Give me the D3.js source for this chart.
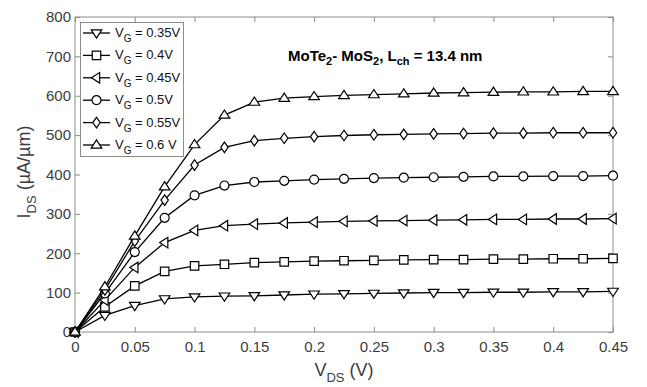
<!DOCTYPE html>
<html>
<head>
<meta charset="utf-8">
<script src="https://cdn.jsdelivr.net/npm/d3@7"></script>
<style>
  body { margin: 0; background: #fff; }
  svg { display: block; font-family: "Liberation Sans", Arial, Helvetica, sans-serif; }
</style>
</head>
<body>
<svg id="chart" width="647" height="387"></svg>
<script>
// Drain voltage sweep (V)
const vds = [0, 0.025, 0.05, 0.075, 0.1, 0.125, 0.15, 0.175, 0.2, 0.225, 0.25, 0.275, 0.3, 0.325, 0.35, 0.375, 0.4, 0.425, 0.45];

// Drain current (µA/µm) for each gate voltage
const id035 = [0, 42, 67, 84, 89, 91, 92, 94, 96, 97, 98, 99, 100, 100, 101, 101, 102, 102, 103];
const id040 = [0, 64, 117, 154, 168, 172, 176, 178, 180, 181, 182, 183, 184, 184, 185, 185, 186, 186, 187];
const id045 = [0, 81, 164, 227, 258, 270, 274, 277, 279, 281, 282, 283, 284, 285, 286, 286, 287, 287, 288];
const id050 = [0, 98, 203, 290, 347, 372, 381, 384, 387, 389, 391, 392, 393, 394, 395, 395, 396, 396, 397];
const id055 = [0, 107, 231, 335, 424, 469, 486, 492, 496, 499, 501, 502, 503, 504, 505, 505, 506, 506, 506];
const id060 = [0, 115, 244, 369, 476, 551, 584, 594, 598, 601, 603, 605, 607, 608, 609, 610, 610, 611, 611];

const gateLabels = ["0.35V", "0.4V", "0.45V", "0.5V", "0.55V", "0.6 V"];
const markerKinds = ["triDown", "square", "triLeft", "circle", "diamond", "triUp"];
const seriesValues = [id035, id040, id045, id050, id055, id060];

const xTicks = [0, 0.05, 0.1, 0.15, 0.2, 0.25, 0.3, 0.35, 0.4, 0.45];
const yTicks = [0, 100, 200, 300, 400, 500, 600, 700, 800];

const svg = d3.select("#chart");
const m = { left: 75, right: 613, top: 17, bottom: 332 };
const x = d3.scaleLinear().domain([0, 0.45]).range([m.left, m.right]);
const y = d3.scaleLinear().domain([0, 800]).range([m.bottom, m.top]);

const axisColor = "#8c8c8c";
const textColor = "#3c3c3c";

// Frame
svg.append("rect")
  .attr("x", m.left).attr("y", m.top)
  .attr("width", m.right - m.left).attr("height", m.bottom - m.top)
  .attr("fill", "none").attr("stroke", axisColor).attr("stroke-width", 1);

// Axes with inward ticks on all four sides
const tickLen = 5;
const fmtX = d => d === 0 ? "0" : d3.format("~g")(d);
const bottomAxis = d3.axisBottom(x).tickValues(xTicks).tickSize(-tickLen).tickPadding(9).tickFormat(fmtX);
const topAxis = d3.axisTop(x).tickValues(xTicks).tickSize(-tickLen).tickFormat("");
const leftAxis = d3.axisLeft(y).tickValues(yTicks).tickSize(-tickLen).tickPadding(4);
const rightAxis = d3.axisRight(y).tickValues(yTicks).tickSize(-tickLen).tickFormat("");

function styleAxis(g) {
  g.select(".domain").remove();
  g.selectAll(".tick line").attr("stroke", axisColor);
  g.selectAll(".tick text").attr("fill", textColor).style("font-size", "15px")
    .style("font-family", "'Liberation Sans', Arial, sans-serif");
}
svg.append("g").attr("transform", `translate(0,${m.bottom})`).call(bottomAxis).call(styleAxis);
svg.append("g").attr("transform", `translate(0,${m.top})`).call(topAxis).call(styleAxis);
svg.append("g").attr("transform", `translate(${m.left},0)`).call(leftAxis).call(styleAxis);
svg.append("g").attr("transform", `translate(${m.right},0)`).call(rightAxis).call(styleAxis);

// Marker shapes
function markerPath(kind, r) {
  switch (kind) {
    case "triDown": return `M${-r},${-r * 0.6}L${r},${-r * 0.6}L0,${r * 0.95}Z`;
    case "triUp": return `M${-r},${r * 0.6}L${r},${r * 0.6}L0,${-r * 0.95}Z`;
    case "triLeft": return `M${r * 0.6},${-r}L${r * 0.6},${r}L${-r * 0.95},0Z`;
    case "square": return `M${-r * 0.8},${-r * 0.8}H${r * 0.8}V${r * 0.8}H${-r * 0.8}Z`;
    case "diamond": return `M0,${-r}L${r * 0.7},0L0,${r}L${-r * 0.7},0Z`;
    case "circle": return d3.arc()({ innerRadius: 0, outerRadius: r * 0.85, startAngle: 0, endAngle: 2 * Math.PI });
  }
}

const line = d3.line().x(d => x(d[0])).y(d => y(d[1]));
const markerR = 5.3;

seriesValues.forEach((vals, i) => {
  const pts = vds.map((v, k) => [v, vals[k]]);
  const g = svg.append("g");
  g.append("path").datum(pts).attr("d", line)
    .attr("fill", "none").attr("stroke", "#000").attr("stroke-width", 1.3);
  g.selectAll("path.mk").data(pts).enter().append("path")
    .attr("class", "mk")
    .attr("transform", d => `translate(${x(d[0])},${y(d[1])})`)
    .attr("d", markerPath(markerKinds[i], markerR))
    .attr("fill", "#fff").attr("stroke", "#000").attr("stroke-width", 1.2);
});

// Legend
const leg = svg.append("g");
leg.append("rect").attr("x", 80.5).attr("y", 22.5).attr("width", 103).attr("height", 134)
  .attr("fill", "#fff").attr("stroke", axisColor).attr("stroke-width", 1);
gateLabels.forEach((lab, i) => {
  const cy = 33 + i * 22.4;
  leg.append("line").attr("x1", 83).attr("x2", 110).attr("y1", cy).attr("y2", cy)
    .attr("stroke", "#000").attr("stroke-width", 1.3);
  leg.append("path").attr("transform", `translate(96.5,${cy})`)
    .attr("d", markerPath(markerKinds[i], markerR))
    .attr("fill", "#fff").attr("stroke", "#000").attr("stroke-width", 1.2);
  const t = leg.append("text").attr("x", 115).attr("y", cy + 4)
    .attr("fill", "#111").style("font-size", "13px");
  t.append("tspan").text("V");
  t.append("tspan").attr("dy", 5).style("font-size", "10px").text("G");
  t.append("tspan").attr("dy", -5).text(" = " + lab);
});

// Device annotation
const ann = svg.append("text").attr("x", 288).attr("y", 61)
  .attr("fill", "#000").style("font-size", "15px").style("font-weight", "bold");
ann.append("tspan").text("MoTe");
ann.append("tspan").attr("dy", 4).style("font-size", "11px").text("2");
ann.append("tspan").attr("dy", -4).text("- MoS");
ann.append("tspan").attr("dy", 4).style("font-size", "11px").text("2");
ann.append("tspan").attr("dy", -4).text(", L");
ann.append("tspan").attr("dy", 4).style("font-size", "11px").text("ch");
ann.append("tspan").attr("dy", -4).text(" = 13.4 nm");

// Axis titles
const xt = svg.append("text").attr("x", 344).attr("y", 376).attr("text-anchor", "middle")
  .attr("fill", textColor).style("font-size", "18px");
xt.append("tspan").text("V");
xt.append("tspan").attr("dy", 6).style("font-size", "13px").text("DS");
xt.append("tspan").attr("dy", -6).text(" (V)");

const yt = svg.append("text").attr("transform", "translate(30,172) rotate(-90)")
  .attr("text-anchor", "middle").attr("fill", textColor).style("font-size", "18px");
yt.append("tspan").text("I");
yt.append("tspan").attr("dy", 6).style("font-size", "13px").text("DS");
yt.append("tspan").attr("dy", -6).text(" (\u00b5A/\u00b5m)");
</script>
</body>
</html>
